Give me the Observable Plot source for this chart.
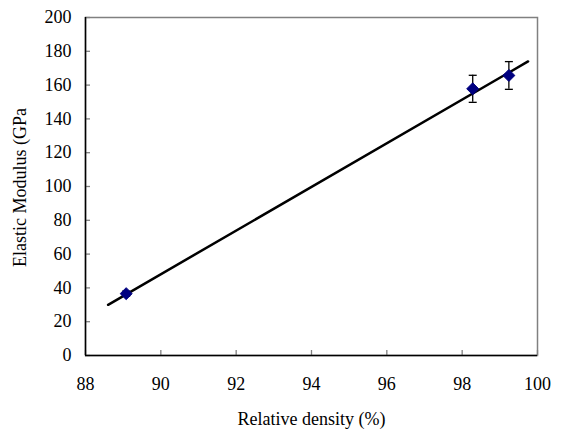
<!DOCTYPE html>
<html>
<head>
<meta charset="utf-8">
<script src="https://cdn.jsdelivr.net/npm/d3@7"></script>
<script src="https://cdn.jsdelivr.net/npm/@observablehq/plot@0.6"></script>
<style>
  html, body { margin: 0; padding: 0; background: #fff; }
</style>
</head>
<body>
<div id="chart"></div>
<script>
// Data
const density = [89.08, 98.28, 99.24];
const modulus = [36.6, 157.8, 165.7];
const errorBar = [1.5, 8.0, 8.2];
const fitX = [88.6, 99.75];
const fitY = [30.0, 174.0];
const xTicks = [88, 90, 92, 94, 96, 98, 100];
const yTicks = [0, 20, 40, 60, 80, 100, 120, 140, 160, 180, 200];

const points = density.map((d, i) => ({x: d, y: modulus[i], e: errorBar[i]}));
const fit = fitX.map((d, i) => ({x: d, y: fitY[i]}));

const W = 564, H = 436;
const mL = 85, mR = 27, mT = 17, mB = 81;
const innerW = W - mL - mR, innerH = H - mT - mB;
const tickLen = 5;
const serif = "Liberation Serif";

const cap = {
  draw(context, size) {
    const r = Math.sqrt(size / Math.PI);
    context.moveTo(-r, 0);
    context.lineTo(r, 0);
  }
};

const chart = Plot.plot({
  width: W,
  height: H,
  marginLeft: mL,
  marginRight: mR,
  marginTop: mT,
  marginBottom: mB,
  style: {fontFamily: serif, fontSize: "18px", color: "#000", background: "#fff"},
  x: {domain: [88, 100]},
  y: {domain: [0, 200]},
  marks: [
    Plot.frame({stroke: "#808080", strokeWidth: 1.5}),
    // inward ticks
    Plot.ruleX(xTicks, {x: d => d, insetTop: innerH - tickLen, stroke: "#808080", strokeWidth: 1.3}),
    Plot.ruleY(yTicks, {y: d => d, insetRight: innerW - tickLen, stroke: "#808080", strokeWidth: 1.3}),
    // black left & bottom axis lines
    Plot.ruleX([88], {stroke: "#000", strokeWidth: 1.5}),
    Plot.ruleY([0], {stroke: "#000", strokeWidth: 1.5}),
    Plot.axisX(xTicks, {tickSize: 0, tickPadding: 22, label: null, fontSize: 18, fontFamily: serif}),
    Plot.axisY(yTicks, {tickSize: 0, tickPadding: 14, label: null, fontSize: 18, fontFamily: serif}),
    Plot.text(["Relative density (%)"], {frameAnchor: "bottom", dy: 69, fontSize: 18, fontFamily: serif, textAnchor: "middle"}),
    Plot.text(["Elastic Modulus (GPa"], {frameAnchor: "left", dx: -65, dy: 1, rotate: -90, fontSize: 18, fontFamily: serif, textAnchor: "middle"}),
    // fit line
    Plot.line(fit, {x: "x", y: "y", stroke: "#000", strokeWidth: 2.5}),
    // error bars
    Plot.ruleX(points, {x: "x", y1: d => d.y - d.e, y2: d => d.y + d.e, stroke: "#000", strokeWidth: 1.3}),
    Plot.dot(points, {x: "x", y: d => d.y - d.e, symbol: cap, r: 4, stroke: "#000", strokeWidth: 1.3, fill: "none"}),
    Plot.dot(points, {x: "x", y: d => d.y + d.e, symbol: cap, r: 4, stroke: "#000", strokeWidth: 1.3, fill: "none"}),
    // markers
    Plot.dot(points, {x: "x", y: "y", symbol: "diamond2", r: 5.4, fill: "#000080", stroke: "#000080", strokeWidth: 1})
  ]
});
document.getElementById("chart").appendChild(chart);
</script>
</body>
</html>
